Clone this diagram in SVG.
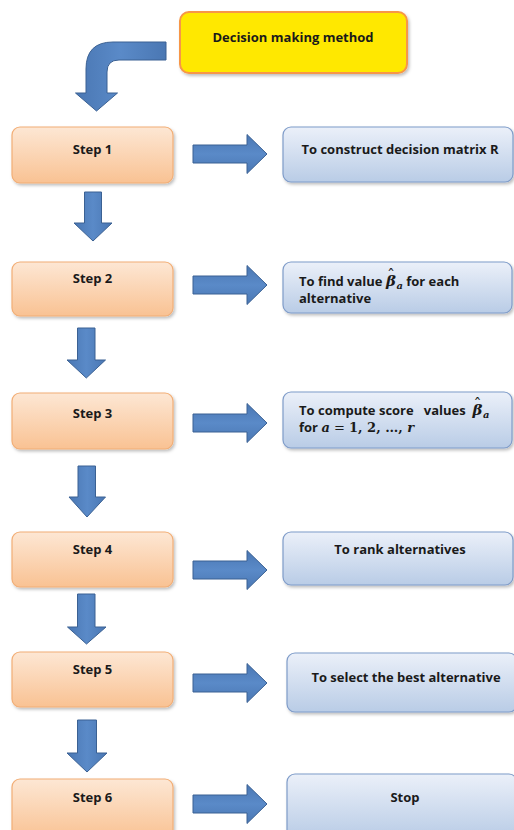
<svg xmlns="http://www.w3.org/2000/svg" width="514" height="830" viewBox="0 0 514 830">
  <defs>
    <linearGradient id="gStep" x1="0" y1="0" x2="0" y2="1">
      <stop offset="0" stop-color="#FDE7D4"/>
      <stop offset="1" stop-color="#F9C293"/>
    </linearGradient>
    <linearGradient id="gInfo" x1="0" y1="0" x2="0" y2="1">
      <stop offset="0" stop-color="#EBF0F9"/>
      <stop offset="1" stop-color="#B9CCE6"/>
    </linearGradient>
    <linearGradient id="gArrowV" x1="0" y1="0" x2="1" y2="0">
      <stop offset="0" stop-color="#4A77B3"/>
      <stop offset="0.5" stop-color="#5A8AC8"/>
      <stop offset="1" stop-color="#4A77B3"/>
    </linearGradient>
    <linearGradient id="gArrowH" x1="0" y1="0" x2="0" y2="1">
      <stop offset="0" stop-color="#4A77B3"/>
      <stop offset="0.5" stop-color="#5A8AC8"/>
      <stop offset="1" stop-color="#4A77B3"/>
    </linearGradient>
    <filter id="shadow" x="-10%" y="-20%" width="125%" height="150%">
      <feDropShadow dx="1.5" dy="2" stdDeviation="1.5" flood-color="#000" flood-opacity="0.25"/>
    </filter>
    <!-- right-pointing block arrow, centred on y=0 -->
    <path id="arrowRight" d="M193,-9 L247,-9 L247,-19.5 L267,0 L247,19.5 L247,9 L193,9 Z"/>
  </defs>
  <style>
    text { font-family: "Open Sans", "Noto Sans", "Liberation Sans", sans-serif; font-weight: bold; font-size: 13px; fill: #1a1a1a; }
    .mid { text-anchor: middle; }
    .pre { white-space: pre; }
    .step { fill: url(#gStep); stroke: #F2AE76; stroke-width: 1.2; filter: url(#shadow); }
    .info { fill: url(#gInfo); stroke: #7F9CC9; stroke-width: 1.2; filter: url(#shadow); }
    .arrowH { fill: url(#gArrowH); stroke: #3B6193; stroke-width: 1; }
    .arrowV { fill: url(#gArrowV); stroke: #3B6193; stroke-width: 1; }
    .math { font-family: "DejaVu Serif", "Liberation Serif", serif; font-style: italic; font-weight: bold; }
    .num { font-family: "DejaVu Serif", "Liberation Serif", serif; font-weight: bold; font-style: normal; }
    .op { font-family: "DejaVu Serif", "Liberation Serif", serif; font-weight: normal; font-style: normal; }
  </style>

  <rect width="514" height="830" fill="#ffffff"/>

  <!-- title -->
  <g id="title">
    <rect x="180" y="12" width="227" height="61" rx="9" fill="#FFE800" stroke="#F79646" stroke-width="2" filter="url(#shadow)"/>
    <text x="293" y="42" class="mid">Decision making method</text>
  </g>

  <!-- step boxes -->
  <g id="step1"><rect class="step" x="12" y="127" width="161" height="56" rx="8"/><text x="92.5" y="154" class="mid">Step 1</text></g>
  <g id="step2"><rect class="step" x="12" y="262" width="161" height="54" rx="8"/><text x="92.5" y="283" class="mid">Step 2</text></g>
  <g id="step3"><rect class="step" x="12" y="393" width="161" height="56" rx="8"/><text x="92.5" y="418" class="mid">Step 3</text></g>
  <g id="step4"><rect class="step" x="12" y="532" width="161" height="55" rx="8"/><text x="92.5" y="554" class="mid">Step 4</text></g>
  <g id="step5"><rect class="step" x="12" y="652" width="161" height="55" rx="8"/><text x="92.5" y="674" class="mid">Step 5</text></g>
  <g id="step6"><rect class="step" x="12" y="779" width="161" height="60" rx="8"/><text x="92.5" y="802" class="mid">Step 6</text></g>

  <!-- description boxes -->
  <g id="info1"><rect class="info" x="283" y="127" width="230" height="55" rx="8"/><text x="400" y="154" class="mid">To construct decision matrix R</text></g>
  <g id="info2">
    <rect class="info" x="283" y="262" width="229" height="51" rx="8"/>
    <text x="299" y="286" class="pre">To find value <tspan class="math" font-size="15">β</tspan><tspan class="op" font-size="16" dx="-9" dy="-5">ˆ</tspan><tspan class="math" font-size="10" dx="1.5" dy="8">a</tspan><tspan dy="-3"> for each</tspan></text>
    <text x="299" y="303">alternative</text>
  </g>
  <g id="info3">
    <rect class="info" x="283" y="392" width="229" height="56" rx="8"/>
    <text x="299" y="415" class="pre">To compute score   values  <tspan class="math" font-size="15">β</tspan><tspan class="op" font-size="16" dx="-9" dy="-5">ˆ</tspan><tspan class="math" font-size="10" dx="1.5" dy="8">a</tspan></text>
    <text x="299" y="432" class="pre">for <tspan class="math" font-size="13">a</tspan><tspan class="op" font-size="13"> = </tspan><tspan class="num" font-size="13">1, 2, …, </tspan><tspan class="math" font-size="13">r</tspan></text>
  </g>
  <g id="info4"><rect class="info" x="283" y="532" width="230" height="53" rx="8"/><text x="400" y="554" class="mid">To rank alternatives</text></g>
  <g id="info5"><rect class="info" x="287" y="653" width="230" height="59" rx="8"/><text x="406" y="682" class="mid">To select the best alternative</text></g>
  <g id="info6"><rect class="info" x="287" y="774" width="230" height="64" rx="8"/><text x="405" y="802" class="mid">Stop</text></g>

  <!-- connectors -->
  <g id="connectors">
    <!-- bent arrow from the title down to step 1 -->
    <path class="arrowV" d="M166,42 L113,42 Q86,42 86,69 L86,93 L75.5,93 L96.5,111 L117.5,93 L107,93 L107,72 Q107,60 119,60 L166,60 Z"/>

    <!-- vertical arrows between steps -->
    <path class="arrowV" d="M84.5,192 L101.5,192 L101.5,223 L112,223 L93,241 L74,223 L84.5,223 Z"/>
    <path class="arrowV" d="M77.5,328 L95,328 L95,360 L105.5,360 L86.3,378 L67,360 L77.5,360 Z"/>
    <path class="arrowV" d="M78,466 L95.5,466 L95.5,497 L105.5,497 L87,517 L69,497 L78,497 Z"/>
    <path class="arrowV" d="M77.5,594 L95,594 L95,627 L106,627 L86.5,644 L67.5,627 L77.5,627 Z"/>
    <path class="arrowV" d="M77.5,720 L96.5,720 L96.5,753 L107,753 L87,772 L67,753 L77.5,753 Z"/>

    <!-- horizontal arrows from steps to descriptions -->
    <use href="#arrowRight" class="arrowH" transform="translate(0,154)"/>
    <use href="#arrowRight" class="arrowH" transform="translate(0,285)"/>
    <use href="#arrowRight" class="arrowH" transform="translate(0,423)"/>
    <use href="#arrowRight" class="arrowH" transform="translate(0,570)"/>
    <use href="#arrowRight" class="arrowH" transform="translate(0,683)"/>
    <use href="#arrowRight" class="arrowH" transform="translate(0,804)"/>
  </g>
</svg>
